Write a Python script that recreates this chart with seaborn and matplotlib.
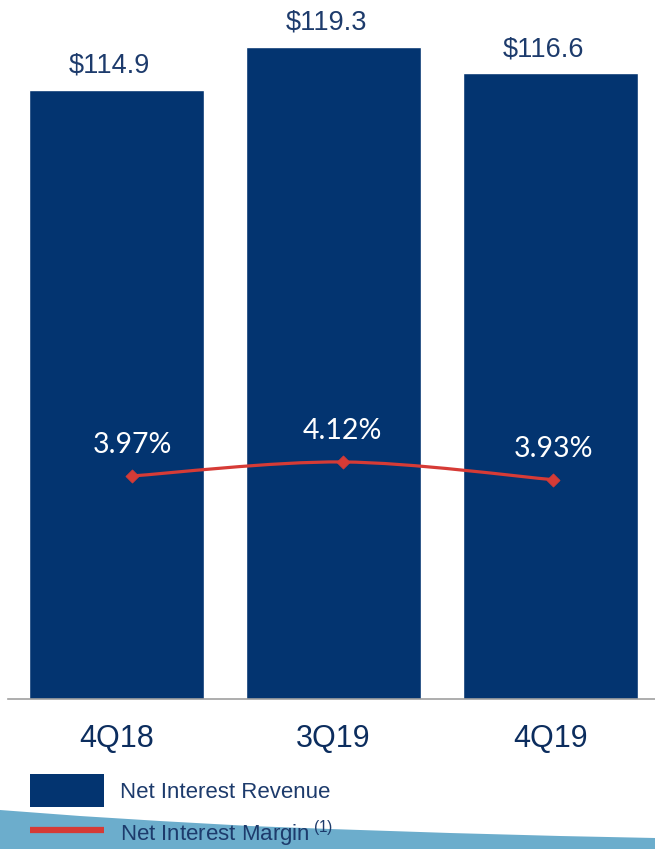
import numpy as np
import pandas as pd
import matplotlib
matplotlib.use("Agg")
import matplotlib.pyplot as plt
import seaborn as sns
from matplotlib.path import Path
from matplotlib.patches import PathPatch, Patch, Polygon
from matplotlib.lines import Line2D

# ---- data ----
quarters = ["4Q18", "3Q19", "4Q19"]
revenue = [114.9, 119.3, 116.6]
margin = [3.97, 4.12, 3.93]
revenue_labels = ["$114.9", "$119.3", "$116.6"]
margin_labels = ["3.97%", "4.12%", "3.93%"]

NAVY = "#033470"
RED = "#d63b36"
TEXT_NAVY = "#1d3b6c"

sns.set_theme(style="white")
plt.rcParams["font.family"] = ["Liberation Sans", "DejaVu Sans"]
plt.rcParams["mathtext.fontset"] = "custom"
plt.rcParams["mathtext.rm"] = "Liberation Sans"

W, H = 655, 849
fig = plt.figure(figsize=(W / 100, H / 100), dpi=100)
fig.patch.set_facecolor("white")

# decorative wave at bottom
wx = np.array([0, 80, 160, 250, 330, 450, 560, 655, 655, 0])
wy = np.array([810, 816, 821, 826, 829, 833, 836, 838, 849, 849])
wave = Polygon(np.column_stack([wx / W, 1 - wy / H]), closed=True,
               transform=fig.transFigure, facecolor="#6cadcc", edgecolor="none", zorder=0)
fig.patches.append(wave)

ax_left, ax_right, ax_top, ax_bottom = 8, 659, 0, 699
pos = [ax_left / W, 1 - ax_bottom / H, (ax_right - ax_left) / W, (ax_bottom - ax_top) / H]
ax = fig.add_axes(pos)
ax.patch.set_alpha(0)

df = pd.DataFrame({"quarter": quarters, "revenue": revenue})
sns.barplot(data=df, x="quarter", y="revenue", color=NAVY, saturation=1,
            width=0.805, ax=ax)
ax.set_ylim(52.6, 124.1)
ax.set_xlim(-0.5, 2.5)
for c in ax.containers:
    anns = ax.bar_label(c, labels=revenue_labels, padding=8.0, fontsize=19.5, color=TEXT_NAVY)
    for a in anns:
        a.xyann = (-5, a.xyann[1])

ax.set_xlabel("")
ax.set_ylabel("")
ax.set_yticks([])
for s in ["top", "right", "left"]:
    ax.spines[s].set_visible(False)
ax.spines["bottom"].set_color("#a0a0a0")
ax.spines["bottom"].set_linewidth(1.2)
ax.set_xticks(range(3))
ax.set_xticklabels(quarters, fontsize=22, color="#0c2d5e")
ax.tick_params(axis="x", which="major", length=0, pad=18)
ax.set_xticks([-0.5, 0.5, 1.5, 2.5], minor=True)
ax.tick_params(axis="x", which="minor", length=8, width=1.2, color="#a0a0a0", direction="out")

# overlay line chart (separate axes, as in the original)
ax2 = fig.add_axes(pos)
ax2.patch.set_alpha(0)

xs = np.arange(len(margin), dtype=float)
ys = np.array(margin)
# smooth curve through the points (Catmull-Rom as cubic Bezier)
verts = [(xs[0], ys[0])]
codes = [Path.MOVETO]
n = len(xs)
for i in range(n - 1):
    p0 = np.array([xs[max(i - 1, 0)], ys[max(i - 1, 0)]])
    p1 = np.array([xs[i], ys[i]])
    p2 = np.array([xs[i + 1], ys[i + 1]])
    p3 = np.array([xs[min(i + 2, n - 1)], ys[min(i + 2, n - 1)]])
    c1 = p1 + (p2 - p0) / 6
    c2 = p2 - (p3 - p1) / 6
    verts += [tuple(c1), tuple(c2), tuple(p2)]
    codes += [Path.CURVE4] * 3
ax2.add_patch(PathPatch(Path(verts, codes), facecolor="none", edgecolor=RED, lw=2.3, zorder=3))
mdf = pd.DataFrame({"x": xs, "margin": ys})
sns.scatterplot(data=mdf, x="x", y="margin", marker="D", s=45, color=RED,
                edgecolor=RED, linewidth=0.5, ax=ax2, zorder=4)
ax2.set_xlim(-0.589, 2.503)
ax2.set_ylim(1.58, 9.07)
ax2.axis("off")
for x, y, lab in zip(xs, ys, margin_labels):
    ax2.annotate(lab, (x, y), xytext=(0, 16.5), textcoords="offset points",
                 ha="center", va="baseline", color="white", fontsize=20.5,
                 family=["Lato", "DejaVu Sans"])

# legend
handles = [Patch(facecolor=NAVY, edgecolor="none"),
           Line2D([], [], color=RED, lw=4.5, solid_capstyle="butt")]
labels = ["Net Interest Revenue", "Net Interest Margin$\\,^{\\mathrm{(1)}}$"]
leg = fig.legend(handles, labels, loc="upper left",
                 bbox_to_anchor=(30 / W, 1 - 774 / H), bbox_transform=fig.transFigure,
                 frameon=False, fontsize=16, handlelength=3.33, handleheight=1.9,
                 handletextpad=0.72, labelspacing=0.5, borderpad=0, borderaxespad=0)
for t in leg.get_texts():
    t.set_color(TEXT_NAVY)

fig.savefig("out.png", dpi=100)
